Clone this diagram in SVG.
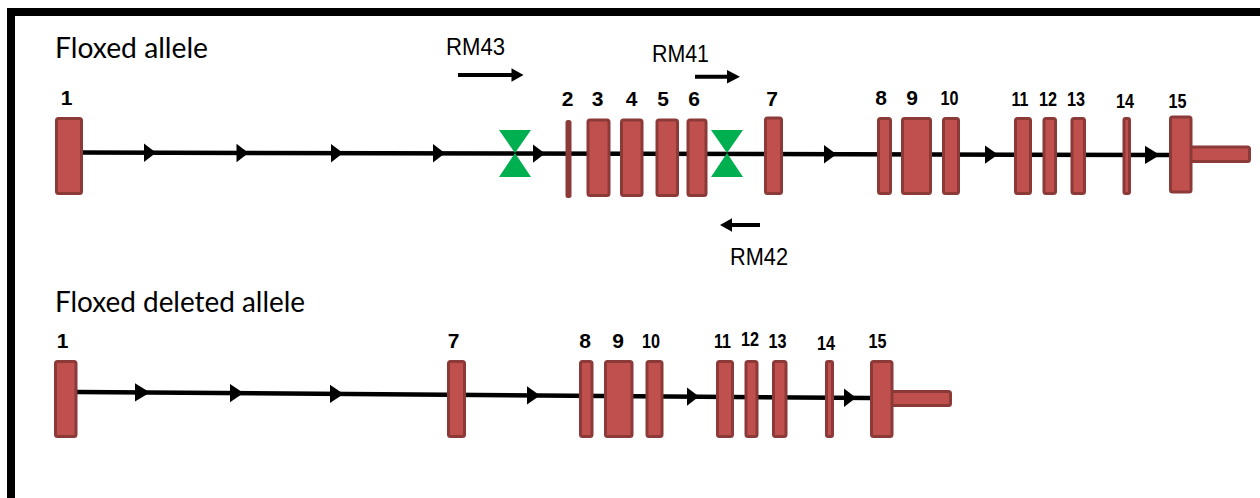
<svg xmlns="http://www.w3.org/2000/svg" width="1260" height="498" viewBox="0 0 1260 498">
<style>
.exon{fill:#C0504D;stroke:#8C3A38;stroke-width:3;}
.lbl{font-family:"Liberation Sans Narrow","Liberation Sans",Arial,sans-serif;font-weight:bold;font-size:21px;fill:#000;text-anchor:middle;}
.title{font-family:Lato,"Open Sans","Liberation Sans",sans-serif;font-size:29px;fill:#000;}
.primer{font-family:"Liberation Sans",Arial,sans-serif;font-size:23px;fill:#000;}
.intron{stroke:#000;stroke-width:4.5;fill:none;}
.head{fill:#000;}
.lox{fill:#00B050;}
.pline{stroke:#000;stroke-width:4;fill:none;}
</style>
<rect x="0" y="0" width="1260" height="498" fill="#fff"/>
<g id="frame">
<rect x="7" y="8" width="1253" height="8" fill="#000"/>
<rect x="7" y="8" width="8" height="490" fill="#000"/>
</g>
<g id="title-floxed"><text class="title" x="55" y="58" textLength="153" lengthAdjust="spacingAndGlyphs">Floxed allele</text></g>
<g id="title-deleted"><text class="title" x="55" y="312" textLength="250" lengthAdjust="spacingAndGlyphs">Floxed deleted allele</text></g>

<g id="connectors">
<path class="intron" d="M80 152.5 L1170 155"/>
<polygon class="head" points="144,143.5 156,152.7 144,162"/>
<polygon class="head" points="236.5,143.7 248.5,152.9 236.5,162.2"/>
<polygon class="head" points="331,143.9 343,153.1 331,162.4"/>
<polygon class="head" points="433,144.1 445,153.3 433,162.6"/>
<polygon class="head" points="533,144.4 545,153.5 533,162.8"/>
<polygon class="head" points="824,145 836.5,154.2 824,163.4"/>
<polygon class="head" points="985,145.4 998,154.6 985,163.8"/>
<polygon class="head" points="1145,145.7 1160,154.9 1145,164.1"/>
<path class="intron" d="M77 392 L870 398"/>
<polygon class="head" points="135,383.2 150,392.4 135,401.6"/>
<polygon class="head" points="230,383.9 243.5,393.1 230,402.3"/>
<polygon class="head" points="330,384.7 343.5,393.9 330,403.1"/>
<polygon class="head" points="527,386.2 540,395.4 527,404.6"/>
<polygon class="head" points="687,387.4 699,396.6 687,405.8"/>
<polygon class="head" points="844,388.6 856,397.8 844,407"/>
</g>

<g id="row1-exon1"><rect class="exon" x="56.5" y="118.5" width="25" height="75" rx="2"/><text class="lbl" x="66.5" y="105">1</text></g>
<g id="row1-loxp1"><polygon class="lox" points="499,130 531,130 515,153"/><polygon class="lox" points="515,153 531,177 499,177"/></g>
<g id="row1-exon2"><rect class="exon" x="567" y="121.5" width="3" height="75" rx="1"/><text class="lbl" x="567.5" y="106">2</text></g>
<g id="row1-exon3"><rect class="exon" x="588" y="120" width="21" height="75.5" rx="2"/><text class="lbl" x="597.5" y="106">3</text></g>
<g id="row1-exon4"><rect class="exon" x="621.5" y="120" width="20.5" height="75.5" rx="2"/><text class="lbl" x="631.5" y="106">4</text></g>
<g id="row1-exon5"><rect class="exon" x="657" y="120" width="20.5" height="75.5" rx="2"/><text class="lbl" x="663" y="106">5</text></g>
<g id="row1-exon6"><rect class="exon" x="688" y="120" width="18" height="75.5" rx="2"/><text class="lbl" x="694" y="106">6</text></g>
<g id="row1-loxp2"><polygon class="lox" points="711,130 743,130 727,153"/><polygon class="lox" points="727,153 743,177 711,177"/></g>
<g id="row1-exon7"><rect class="exon" x="765.5" y="118" width="16" height="75.5" rx="2"/><text class="lbl" x="772" y="106">7</text></g>
<g id="row1-exon8"><rect class="exon" x="878.5" y="118.5" width="12" height="75" rx="2"/><text class="lbl" x="881" y="104.5">8</text></g>
<g id="row1-exon9"><rect class="exon" x="902.5" y="118.5" width="28" height="75" rx="2"/><text class="lbl" x="912" y="104.5">9</text></g>
<g id="row1-exon10"><rect class="exon" x="943.5" y="118.5" width="15" height="75" rx="2"/><text class="lbl" x="949.5" y="104.5" textLength="18" lengthAdjust="spacingAndGlyphs">10</text></g>
<g id="row1-exon11"><rect class="exon" x="1015.5" y="118.5" width="15" height="75" rx="2"/><text class="lbl" x="1020" y="106" textLength="17" lengthAdjust="spacingAndGlyphs">11</text></g>
<g id="row1-exon12"><rect class="exon" x="1044" y="118.5" width="11.5" height="75" rx="2"/><text class="lbl" x="1048" y="106" textLength="18" lengthAdjust="spacingAndGlyphs">12</text></g>
<g id="row1-exon13"><rect class="exon" x="1072" y="118.5" width="12.5" height="75" rx="2"/><text class="lbl" x="1076" y="106" textLength="18" lengthAdjust="spacingAndGlyphs">13</text></g>
<g id="row1-exon14"><rect class="exon" x="1124" y="118.5" width="5.5" height="75" rx="1.5"/><text class="lbl" x="1125" y="107.5" textLength="18" lengthAdjust="spacingAndGlyphs">14</text></g>
<g id="row1-exon15"><rect class="exon" x="1185" y="147" width="64.5" height="14.5" rx="2"/><rect class="exon" x="1170.5" y="117" width="20.5" height="75" rx="2"/><text class="lbl" x="1177.5" y="107.5" textLength="18" lengthAdjust="spacingAndGlyphs">15</text></g>

<g id="primer-rm43"><text class="primer" x="446" y="55" textLength="59" lengthAdjust="spacingAndGlyphs">RM43</text><path class="pline" d="M458 75 H514"/><polygon class="head" points="511.5,68.3 523.5,75 511.5,81.7"/></g>
<g id="primer-rm41"><text class="primer" x="652" y="62" textLength="57" lengthAdjust="spacingAndGlyphs">RM41</text><path class="pline" d="M695 76.7 H729"/><polygon class="head" points="727,70 740,76.7 727,83.4"/></g>
<g id="primer-rm42"><text class="primer" x="730" y="265" textLength="58" lengthAdjust="spacingAndGlyphs">RM42</text><path class="pline" d="M760 225 H729"/><polygon class="head" points="732,218.3 720,225 732,231.7"/></g>

<g id="row2-exon1"><rect class="exon" x="55.5" y="361.5" width="20.5" height="75" rx="2"/><text class="lbl" x="62.5" y="348">1</text></g>
<g id="row2-exon7"><rect class="exon" x="448.5" y="361.5" width="16" height="75" rx="2"/><text class="lbl" x="453.5" y="348">7</text></g>
<g id="row2-exon8"><rect class="exon" x="580.5" y="361.5" width="11.5" height="75" rx="2"/><text class="lbl" x="585" y="348">8</text></g>
<g id="row2-exon9"><rect class="exon" x="605.5" y="361.5" width="26.5" height="75" rx="2"/><text class="lbl" x="618" y="348">9</text></g>
<g id="row2-exon10"><rect class="exon" x="647" y="361.5" width="15" height="75" rx="2"/><text class="lbl" x="651" y="348" textLength="18" lengthAdjust="spacingAndGlyphs">10</text></g>
<g id="row2-exon11"><rect class="exon" x="717.5" y="361.5" width="15" height="75" rx="2"/><text class="lbl" x="722.5" y="348" textLength="17" lengthAdjust="spacingAndGlyphs">11</text></g>
<g id="row2-exon12"><rect class="exon" x="746" y="361.5" width="11" height="75" rx="2"/><text class="lbl" x="750" y="346" textLength="18" lengthAdjust="spacingAndGlyphs">12</text></g>
<g id="row2-exon13"><rect class="exon" x="773.5" y="361.5" width="12.5" height="75" rx="2"/><text class="lbl" x="777.5" y="348" textLength="18" lengthAdjust="spacingAndGlyphs">13</text></g>
<g id="row2-exon14"><rect class="exon" x="826.5" y="361.5" width="6" height="75" rx="1.5"/><text class="lbl" x="826" y="350" textLength="18" lengthAdjust="spacingAndGlyphs">14</text></g>
<g id="row2-exon15"><rect class="exon" x="886" y="391.5" width="64.5" height="14" rx="2"/><rect class="exon" x="871.5" y="361.5" width="20.5" height="75" rx="2"/><text class="lbl" x="877.5" y="348" textLength="18" lengthAdjust="spacingAndGlyphs">15</text></g>
</svg>
